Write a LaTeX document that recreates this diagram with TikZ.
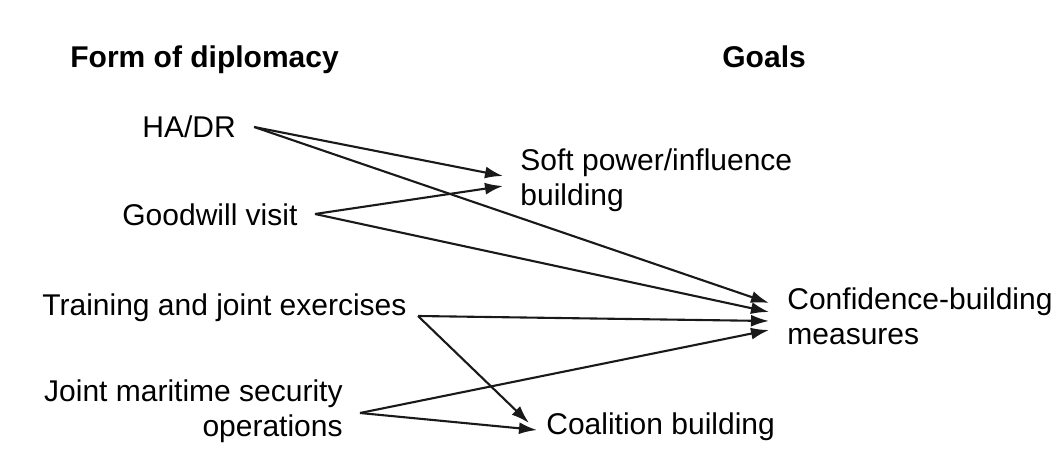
\documentclass[tikz,border=0pt]{standalone}
\usepackage{fontspec}
\setmainfont{Liberation Sans}
\usetikzlibrary{arrows.meta}
\begin{document}
\begin{tikzpicture}[x=0.5pt,y=-0.5pt,
  lbl/.style={inner sep=0pt,anchor=west,font=\fontsize{15}{18}\selectfont,text=black},
  hdr/.style={inner sep=0pt,anchor=base west,font=\fontsize{15}{18}\selectfont\bfseries,text=black},
  conn/.style={line width=1.05pt,draw=black!90,-{Latex[length=9pt,width=6pt]}}]
\useasboundingbox (0,0) rectangle (1062,465);
\fill[white] (0,0) rectangle (1062,465);
% headers
\node[hdr] (hform) at (70,68) {Form of diplomacy};
\node[hdr] (hgoal) at (722,68) {Goals};
% forms
\node[lbl] (hadr) at (142,127) {HA/DR};
\node[lbl] (good) at (122,215) {Goodwill visit};
\node[lbl] (train) at (42,308) {Training and joint exercises};
\node[lbl,anchor=east,align=right,font=\fontsize{15}{17.6}\selectfont] (joint) at (343,411) {Joint maritime security\\operations};
% goals
\node[lbl,align=left,font=\fontsize{15}{17.6}\selectfont] (soft) at (520,180) {Soft power/influence\\building};
\node[lbl,align=left,font=\fontsize{15}{17.6}\selectfont] (conf) at (787,316) {Confidence-building\\measures};
\node[lbl] (coal) at (546,427) {Coalition building};
% connector ends
\coordinate (hadrO) at ([xshift=9pt]hadr.east);
\coordinate (goodO) at (315,214);
\coordinate (trainO) at (418,316);
\coordinate (jointO) at (360,413);
\coordinate (softA) at (503,176);
\coordinate (softB) at (503,186);
\coordinate (confA) at (769,303);
\coordinate (confB) at (769,312);
\coordinate (confC) at (769,321);
\coordinate (confD) at (769,330);
\coordinate (coalA) at (529,423);
\coordinate (coalB) at (537,430);
% connectors
\draw[conn] (hadrO) -- (softA);
\draw[conn] (hadrO) -- (confA);
\draw[conn] (goodO) -- (softB);
\draw[conn] (goodO) -- (confB);
\draw[conn] (trainO) -- (confC);
\draw[conn] (trainO) -- (coalA);
\draw[conn] (jointO) -- (confD);
\draw[conn] (jointO) -- (coalB);
\end{tikzpicture}
\end{document}
